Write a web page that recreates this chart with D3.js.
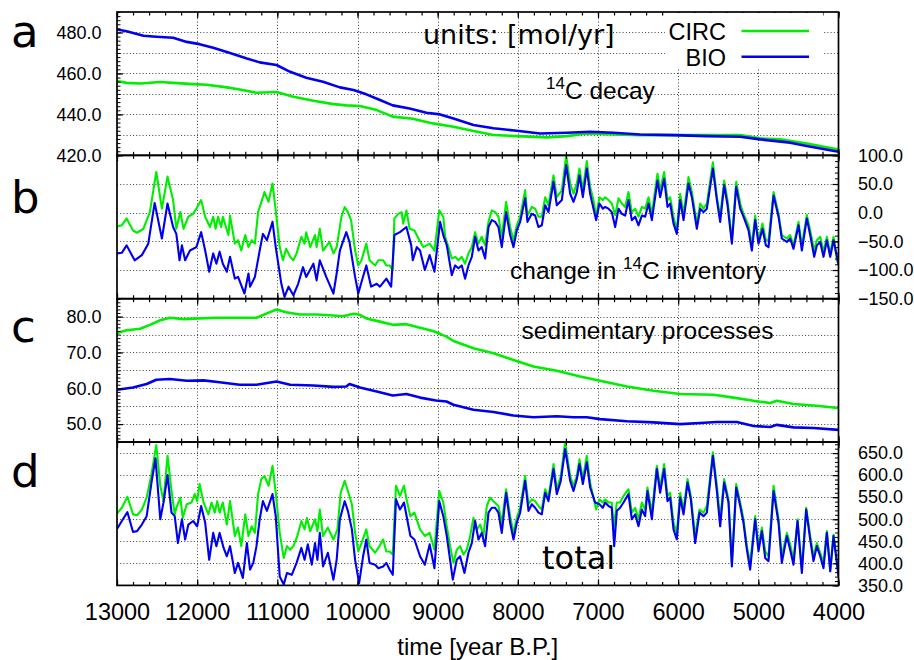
<!DOCTYPE html>
<html>
<head>
<meta charset="utf-8">
<script src="https://cdn.jsdelivr.net/npm/d3@7"></script>
<style>
  body { margin: 0; background: #fff; }
  svg { display: block; }
</style>
</head>
<body>
<svg id="chart" width="914" height="660"></svg>
<script>
// ---- data: [year B.P., mol/yr] ----
const decayCirc = [[13000,456.3],[12880,455.4],[12710,455.1],[12460,455.8],[12300,455.4],[12050,454.8],[11880,454.5],[11630,453.2],[11470,452.2],[11260,450.6],[11010,450.9],[10800,448.6],[10550,446.7],[10300,445.0],[10140,444.4],[9970,444.1],[9760,442.1],[9560,438.9],[9310,437.9],[9060,435.6],[8803,434.0],[8554,431.9],[8304,429.9],[8013,429.4],[7638,428.8],[7389,429.4],[7140,430.7],[6807,430.2],[6474,429.9],[6058,429.9],[5642,429.9],[5226,429.9],[4977,428.3],[4727,427.8],[4395,425.8],[4000,422.9]];
const decayBio = [[13000,481.5],[12880,480.6],[12670,478.4],[12510,477.9],[12300,477.4],[12130,475.4],[11970,474.3],[11800,472.5],[11590,470.0],[11380,467.3],[11220,465.4],[11010,464.1],[10840,460.8],[10640,457.9],[10430,455.9],[10220,453.2],[10050,451.9],[9890,449.8],[9720,447.0],[9560,444.4],[9350,442.9],[9140,440.8],[8970,440.0],[8803,438.0],[8554,434.8],[8304,433.2],[8013,432.0],[7722,430.7],[7389,431.0],[7098,431.5],[6807,431.0],[6474,430.2],[6058,429.9],[5642,429.4],[5226,429.1],[4977,427.8],[4602,426.2],[4395,424.6],[4000,421.8]];

const inventoryCirc = [[13000,-24],[12940,-22],[12880,-10],[12800,-31],[12750,-35],[12670,-28],[12590,1],[12510,71],[12440,7],[12370,63],[12300,22],[12260,-28],[12210,1],[12170,-28],[12110,-7],[12050,-2],[12010,7],[11950,22],[11900,-7],[11840,-25],[11800,-7],[11770,-28],[11740,-7],[11700,-25],[11680,-7],[11610,-39],[11590,-5],[11530,-54],[11490,-48],[11450,-66],[11400,-39],[11360,-60],[11320,-48],[11280,-54],[11240,1],[11180,27],[11160,36],[11110,19],[11060,51],[11020,4],[10970,-60],[10930,-83],[10890,-63],[10840,-77],[10800,-83],[10760,-71],[10700,-42],[10660,-54],[10640,-34],[10590,-60],[10530,-39],[10510,-60],[10470,-28],[10430,-66],[10350,-51],[10300,-71],[10260,-60],[10200,-7],[10160,10],[10120,1],[10080,-13],[10030,-66],[9990,-92],[9950,-83],[9890,-54],[9850,-83],[9780,-92],[9740,-83],[9680,-83],[9640,-92],[9600,-92],[9560,-100],[9540,-10],[9490,-2],[9450,1],[9430,-19],[9390,4],[9350,-28],[9290,-31],[9240,-45],[9180,-60],[9100,-54],[9040,-66],[8980,4],[8930,-7],[8907,-42],[8866,-60],[8824,-80],[8782,-77],[8741,-83],[8699,-77],[8658,-89],[8616,-71],[8574,-60],[8533,-34],[8491,-54],[8450,-42],[8408,-57],[8366,-16],[8325,4],[8283,1],[8242,-7],[8200,-42],[8146,19],[8096,-25],[8054,-48],[8013,-22],[7971,-7],[7909,39],[7880,-5],[7826,10],[7784,7],[7743,-7],[7701,-7],[7659,27],[7618,13],[7555,65],[7514,27],[7451,39],[7397,100],[7347,51],[7306,33],[7264,51],[7231,77],[7189,39],[7140,90],[7098,45],[7056,22],[7023,-7],[6982,27],[6940,22],[6911,27],[6869,22],[6828,16],[6786,-4],[6744,25],[6703,16],[6661,10],[6620,36],[6578,1],[6536,7],[6495,-7],[6453,10],[6412,7],[6370,27],[6328,-2],[6258,68],[6225,39],[6175,71],[6133,22],[6100,27],[6058,-7],[6017,-31],[5975,33],[5933,-2],[5871,62],[5829,36],[5767,-19],[5725,16],[5684,7],[5642,16],[5567,88],[5517,27],[5476,-7],[5426,56],[5384,22],[5330,-48],[5276,54],[5226,16],[5185,-2],[5122,-22],[5081,-57],[5039,-5],[4998,-48],[4948,-19],[4906,-48],[4873,-48],[4810,36],[4748,-2],[4707,-39],[4644,-45],[4603,-39],[4561,-57],[4499,-16],[4457,-57],[4395,-4],[4353,-31],[4303,-66],[4270,-48],[4228,-42],[4187,-68],[4145,-42],[4103,-71],[4062,-42],[4020,-83],[4000,-90]];
const inventoryBio = [[13000,-71],[12940,-70],[12880,-57],[12780,-83],[12690,-74],[12610,-54],[12530,17],[12440,-45],[12370,16],[12300,-25],[12260,-37],[12220,-83],[12190,-57],[12150,-83],[12090,-66],[12010,-60],[11950,-34],[11900,-66],[11850,-103],[11800,-71],[11760,-89],[11720,-68],[11680,-89],[11630,-103],[11590,-77],[11530,-115],[11490,-112],[11410,-141],[11360,-106],[11340,-129],[11280,-112],[11220,-66],[11180,-37],[11130,-48],[11060,-16],[11020,-60],[10950,-124],[10910,-147],[10860,-129],[10800,-144],[10740,-124],[10680,-95],[10640,-112],[10550,-89],[10510,-118],[10470,-83],[10390,-112],[10300,-141],[10260,-106],[10220,-66],[10140,-34],[10100,-51],[10030,-112],[9990,-141],[9950,-121],[9890,-92],[9830,-129],[9760,-124],[9720,-129],[9640,-115],[9580,-129],[9540,-39],[9470,-34],[9390,-25],[9330,-57],[9310,-83],[9260,-60],[9220,-66],[9160,-100],[9100,-74],[9040,-103],[8970,-16],[8930,-39],[8886,-57],[8824,-109],[8782,-92],[8741,-97],[8699,-92],[8658,-115],[8616,-92],[8574,-77],[8533,-42],[8491,-66],[8450,-60],[8408,-80],[8366,-25],[8325,-13],[8283,-16],[8242,-25],[8200,-60],[8146,1],[8096,-39],[8054,-60],[8013,-31],[7971,-16],[7909,25],[7880,-16],[7826,-2],[7784,-5],[7743,-25],[7701,-22],[7659,13],[7618,1],[7555,54],[7514,13],[7451,22],[7397,83],[7347,33],[7306,19],[7264,36],[7231,65],[7189,27],[7140,77],[7098,33],[7056,7],[7023,-13],[6982,16],[6940,7],[6911,10],[6869,7],[6828,1],[6786,-25],[6744,7],[6703,-2],[6661,-5],[6620,22],[6578,-13],[6536,-7],[6495,-22],[6453,-5],[6412,-7],[6370,16],[6328,-13],[6258,56],[6225,27],[6175,59],[6133,10],[6100,16],[6058,-19],[6017,-37],[5975,22],[5933,-13],[5871,51],[5829,27],[5767,-28],[5725,7],[5684,1],[5642,7],[5567,77],[5517,22],[5476,-16],[5426,48],[5384,13],[5330,-54],[5276,45],[5226,7],[5185,-7],[5122,-31],[5081,-66],[5039,-13],[4998,-54],[4948,-28],[4906,-57],[4873,-60],[4810,30],[4748,-7],[4707,-45],[4644,-51],[4603,-45],[4561,-63],[4499,-22],[4457,-66],[4395,-10],[4353,-39],[4303,-77],[4270,-57],[4228,-51],[4187,-77],[4145,-48],[4103,-77],[4062,-48],[4000,-89]];

const sedimentCirc = [[13000,75.4],[12880,76.2],[12710,76.6],[12590,77.7],[12460,79.0],[12340,79.7],[12170,79.3],[11970,79.5],[11760,79.7],[11550,79.7],[11260,79.7],[11130,80.9],[11010,82.0],[10890,81.2],[10720,80.6],[10510,80.6],[10300,80.3],[10180,80.1],[10050,80.8],[9970,80.5],[9890,79.5],[9720,78.6],[9560,77.7],[9390,77.9],[9220,76.9],[9060,76.0],[8970,75.2],[8890,74.4],[8803,73.2],[8554,71.2],[8304,69.8],[8055,67.9],[7805,66.1],[7514,64.9],[7223,63.3],[6973,62.1],[6640,60.5],[6308,59.3],[5975,58.4],[5559,58.2],[5310,57.4],[5060,56.5],[4852,55.9],[4769,56.5],[4561,55.6],[4312,55.2],[4000,54.5]];
const sedimentBio = [[13000,59.6],[12800,60.2],[12630,61.2],[12510,62.4],[12340,62.6],[12130,62.1],[11920,62.2],[11720,61.7],[11470,61.0],[11260,61.0],[11010,61.9],[10840,61.0],[10550,60.8],[10300,60.4],[10140,60.5],[10100,61.2],[9970,60.2],[9760,59.1],[9560,58.0],[9390,58.4],[9220,57.4],[9020,56.6],[8890,56.3],[8803,55.4],[8554,54.0],[8304,53.4],[8055,52.4],[7805,51.9],[7514,52.2],[7306,51.9],[7140,51.9],[6973,51.4],[6640,50.8],[6308,50.5],[5975,50.0],[5725,50.3],[5517,50.6],[5268,50.6],[5060,49.5],[4852,49.2],[4769,49.8],[4561,49.1],[4312,48.9],[4000,48.4]];

const totalCirc = [[13000,513],[12940,526],[12870,551],[12800,511],[12750,509],[12690,522],[12630,549],[12570,602],[12510,668],[12460,576],[12420,541],[12370,644],[12320,564],[12280,511],[12260,526],[12210,549],[12180,503],[12130,534],[12070,538],[12030,557],[12000,541],[11970,580],[11920,538],[11860,511],[11820,538],[11780,515],[11750,541],[11720,515],[11680,538],[11630,488],[11590,541],[11530,462],[11490,481],[11450,439],[11400,511],[11360,462],[11320,484],[11280,469],[11240,557],[11200,591],[11160,598],[11110,576],[11060,621],[11020,560],[10970,469],[10920,412],[10880,439],[10840,431],[10800,439],[10750,462],[10700,496],[10660,477],[10630,503],[10590,473],[10530,500],[10500,473],[10470,522],[10430,462],[10370,481],[10300,454],[10250,477],[10210,560],[10160,587],[10120,564],[10070,534],[10030,469],[9990,427],[9950,446],[9890,477],[9850,439],[9780,424],[9740,435],[9680,454],[9640,427],[9600,427],[9560,420],[9520,576],[9470,553],[9420,576],[9380,538],[9340,507],[9290,515],[9220,477],[9160,462],[9100,469],[9040,431],[8980,564],[8930,538],[8886,484],[8845,439],[8803,401],[8762,431],[8720,439],[8678,420],[8637,431],[8595,462],[8554,503],[8512,477],[8470,488],[8429,462],[8387,530],[8346,549],[8304,541],[8242,530],[8200,492],[8146,568],[8096,507],[8054,469],[8013,503],[7971,526],[7909,598],[7867,534],[7826,545],[7784,541],[7743,530],[7701,522],[7659,568],[7618,549],[7555,625],[7514,568],[7464,598],[7410,674],[7347,598],[7306,576],[7264,598],[7231,636],[7189,591],[7140,644],[7098,583],[7056,549],[7023,522],[6982,545],[6940,538],[6911,545],[6869,538],[6828,538],[6807,477],[6765,538],[6724,538],[6682,553],[6620,568],[6578,515],[6536,526],[6495,500],[6453,538],[6412,522],[6383,572],[6328,515],[6266,621],[6225,572],[6175,625],[6133,553],[6100,560],[6058,492],[6017,469],[5975,560],[5933,522],[5883,591],[5842,553],[5788,462],[5734,522],[5684,515],[5642,530],[5567,652],[5517,576],[5476,500],[5426,591],[5372,545],[5330,401],[5276,580],[5226,538],[5185,500],[5143,439],[5102,401],[5039,507],[4998,439],[4956,481],[4914,427],[4873,416],[4810,576],[4748,500],[4707,416],[4644,469],[4603,443],[4561,408],[4511,500],[4457,386],[4403,526],[4353,462],[4312,416],[4270,446],[4228,424],[4187,401],[4145,473],[4103,386],[4062,465],[4000,378]];
const totalBio = [[13000,478],[12940,496],[12870,516],[12800,471],[12750,473],[12690,488],[12630,507],[12570,583],[12520,638],[12460,500],[12420,538],[12370,600],[12320,515],[12280,507],[12240,446],[12190,500],[12150,454],[12110,488],[12050,496],[12000,484],[11950,530],[11900,492],[11850,408],[11800,469],[11760,439],[11720,469],[11670,435],[11630,416],[11590,439],[11530,378],[11490,401],[11430,367],[11380,446],[11340,386],[11300,401],[11260,439],[11220,500],[11180,541],[11130,519],[11060,557],[11020,507],[10970,370],[10920,352],[10880,378],[10820,374],[10760,401],[10700,435],[10660,408],[10620,443],[10570,397],[10530,446],[10500,408],[10470,469],[10430,393],[10370,424],[10300,363],[10260,408],[10220,500],[10160,541],[10120,519],[10070,477],[10030,408],[9980,355],[9930,416],[9890,454],[9850,401],[9780,397],[9740,389],[9680,393],[9640,401],[9600,386],[9560,374],[9520,545],[9470,522],[9420,538],[9380,500],[9340,462],[9290,454],[9220,416],[9160,397],[9100,443],[9040,389],[8980,541],[8930,507],[8886,462],[8811,363],[8762,408],[8720,416],[8666,378],[8616,424],[8574,446],[8533,496],[8491,454],[8450,469],[8408,439],[8366,515],[8325,526],[8283,526],[8242,515],[8200,469],[8146,560],[8096,492],[8054,454],[8013,492],[7971,515],[7909,587],[7867,519],[7826,534],[7784,526],[7743,515],[7701,511],[7659,560],[7618,541],[7555,614],[7514,557],[7464,587],[7410,659],[7347,587],[7306,564],[7264,591],[7231,625],[7189,580],[7140,629],[7098,572],[7036,538],[6982,534],[6940,526],[6911,538],[6869,530],[6828,526],[6798,439],[6765,519],[6724,526],[6682,538],[6620,557],[6578,500],[6536,511],[6495,484],[6453,522],[6412,507],[6383,564],[6328,500],[6266,614],[6225,560],[6175,614],[6133,541],[6100,549],[6058,477],[6017,454],[5975,549],[5933,511],[5883,583],[5842,545],[5788,446],[5734,515],[5684,507],[5642,515],[5567,644],[5517,564],[5476,484],[5426,583],[5372,538],[5330,393],[5276,572],[5226,530],[5185,492],[5143,431],[5102,386],[5039,500],[4998,427],[4956,473],[4914,412],[4873,405],[4810,564],[4748,492],[4707,401],[4644,462],[4603,431],[4561,397],[4511,496],[4457,378],[4403,522],[4353,454],[4312,405],[4270,439],[4228,416],[4187,389],[4145,469],[4103,382],[4062,462],[4000,370]];

const yearTicks = [13000, 12000, 11000, 10000, 9000, 8000, 7000, 6000, 5000, 4000];
const seriesNames = ["CIRC", "BIO"];

// ---- layout ----
const X0 = 117, X1 = 838.5, TOP = 12, PH = 143.35;
const GREEN = "#00ee00", BLUE = "#0000ee";
const SANS = "'Liberation Sans', Arial, Helvetica, sans-serif";
const DEJAVU = "'DejaVu Sans', Verdana, sans-serif";

const svg = d3.select("#chart");
const x = d3.scaleLinear().domain([13000, 4000]).range([X0, X1]);

const panels = [
  { id: "a", domain: [420, 490], labels: [420, 440, 460, 480], grid: d3.range(430, 490, 10), minor: d3.range(420, 491, 2), side: "left",  circ: decayCirc,     bio: decayBio,     lw: 2.6 },
  { id: "b", domain: [-150, 100], labels: [-150, -100, -50, 0, 50, 100], grid: [-100, -50, 0, 50], minor: d3.range(-150, 101, 10), side: "right", circ: inventoryCirc, bio: inventoryBio, lw: 2.1 },
  { id: "c", domain: [45, 85], labels: [50, 60, 70, 80], grid: d3.range(50, 85, 5), minor: d3.range(45, 86, 1), side: "left",  circ: sedimentCirc,  bio: sedimentBio,  lw: 2.6 },
  { id: "d", domain: [350, 675], labels: [350, 400, 450, 500, 550, 600, 650], grid: [400, 450, 500, 550, 600, 650], minor: d3.range(350, 676, 10), side: "right", circ: totalCirc, bio: totalBio, lw: 2.1 }
];

const minorYears = d3.range(13000, 3999, -200);

panels.forEach((p, i) => {
  const top = TOP + i * PH, bottom = top + PH;
  const y = d3.scaleLinear().domain(p.domain).range([bottom, top]);
  const g = svg.append("g").attr("class", "panel-" + p.id);

  g.append("clipPath").attr("id", "clip-" + p.id)
    .append("rect").attr("x", X0).attr("y", top).attr("width", X1 - X0).attr("height", PH);

  // dotted grid
  const grid = g.append("g").attr("stroke", "#444").attr("stroke-width", 1).attr("stroke-dasharray", "1,2.2");
  grid.selectAll("line.h").data(p.grid).join("line").attr("class", "h")
    .attr("x1", X0).attr("x2", X1).attr("y1", d => Math.round(y(d)) + 0.5).attr("y2", d => Math.round(y(d)) + 0.5);
  grid.selectAll("line.v").data(yearTicks.slice(1, -1)).join("line").attr("class", "v")
    .attr("x1", d => Math.round(x(d)) + 0.5).attr("x2", d => Math.round(x(d)) + 0.5).attr("y1", top).attr("y2", bottom);

  // series
  const line = d3.line().x(d => x(d[0])).y(d => y(d[1]));
  const plot = g.append("g").attr("clip-path", "url(#clip-" + p.id + ")").attr("fill", "none")
    .attr("stroke-linejoin", "round").attr("stroke-width", p.lw);
  plot.append("path").datum(p.circ).attr("d", line).attr("stroke", GREEN);
  plot.append("path").datum(p.bio).attr("d", line).attr("stroke", BLUE);

  // x ticks on top and bottom edges, inward
  const xAxes = [
    { ax: d3.axisBottom(x).tickValues(yearTicks), pos: bottom, size: -6 },
    { ax: d3.axisBottom(x).tickValues(minorYears), pos: bottom, size: -3.5 },
    { ax: d3.axisTop(x).tickValues(yearTicks), pos: top, size: -6 },
    { ax: d3.axisTop(x).tickValues(minorYears), pos: top, size: -3.5 }
  ];
  xAxes.forEach(a => {
    const ag = g.append("g").attr("transform", `translate(0,${a.pos})`)
      .call(a.ax.tickSize(a.size).tickFormat(""));
    ag.select(".domain").remove();
    ag.selectAll("line").attr("stroke", "#000").attr("stroke-width", 1.2);
  });

  // y axis on the labelled side
  const isLeft = p.side === "left";
  const yx = isLeft ? X0 : X1;
  const mk = isLeft ? d3.axisLeft : d3.axisRight;
  const yMinor = g.append("g").attr("transform", `translate(${yx},0)`)
    .call(mk(y).tickValues(p.minor).tickSize(-3.5).tickFormat(""));
  yMinor.select(".domain").remove();
  yMinor.selectAll("line").attr("stroke", "#000").attr("stroke-width", 1);

  const yMajor = g.append("g").attr("transform", `translate(${yx},0)`)
    .call(mk(y).tickValues(p.labels).tickSize(-6).tickPadding(isLeft ? 15.5 : 19.5).tickFormat(d3.format(".1f")));
  yMajor.select(".domain").remove();
  yMajor.selectAll("line").attr("stroke", "#000").attr("stroke-width", 1.2);
  yMajor.selectAll("text").attr("font-family", SANS).attr("font-size", 18).attr("fill", "#000");

  // frame
  g.append("rect").attr("x", X0).attr("y", top).attr("width", X1 - X0).attr("height", PH)
    .attr("fill", "none").attr("stroke", "#000").attr("stroke-width", 1.7);

  // panel letter
  svg.append("text").attr("x", 11).attr("y", [46.5, 212.5, 341.5, 486.5][i])
    .attr("font-family", DEJAVU).attr("font-size", 45).attr("fill", "#000").text(p.id);
});

// year labels along the bottom
const bottomY = TOP + 4 * PH;
const xLab = svg.append("g").attr("transform", `translate(0,${bottomY})`)
  .call(d3.axisBottom(x).tickValues(yearTicks).tickSize(0).tickPadding(18).tickFormat(d3.format("d")));
xLab.select(".domain").remove();
xLab.selectAll("text").attr("font-family", SANS).attr("font-size", 23.5).attr("fill", "#000");

svg.append("text").attr("x", (X0 + X1) / 2).attr("y", 655).attr("text-anchor", "middle")
  .attr("font-family", SANS).attr("font-size", 24).text("time [year B.P.]");

// annotations
svg.append("text").attr("x", 423).attr("y", 44).attr("font-family", DEJAVU).attr("font-size", 27).text("units: [mol/yr]");

function superLabel(xPos, yPos, before, after) {
  const t = svg.append("text").attr("x", xPos).attr("y", yPos).attr("font-family", SANS).attr("font-size", 24.5);
  if (before) t.append("tspan").text(before);
  t.append("tspan").attr("font-size", 17).attr("dy", -10).text("14");
  t.append("tspan").attr("dy", 10).text(after);
}
superLabel(546, 98.5, "", "C decay");
superLabel(510, 278.5, "change in ", "C inventory");

svg.append("text").attr("x", 521.5).attr("y", 338.5).attr("font-family", SANS).attr("font-size", 24.5).text("sedimentary processes");
svg.append("text").attr("x", 542).attr("y", 569).attr("font-family", DEJAVU).attr("font-size", 32).text("total");

// legend (opaque key box)
svg.append("rect").attr("x", 665).attr("y", 13).attr("width", 158).attr("height", 55).attr("fill", "#fff");
const key = svg.append("g");
[GREEN, BLUE].forEach((c, k) => {
  const ly = 31 + k * 25.7;
  key.append("text").attr("x", 726).attr("y", ly + 8.8).attr("text-anchor", "end")
    .attr("font-family", SANS).attr("font-size", 23.5).text(seriesNames[k]);
  key.append("line").attr("x1", 741.5).attr("x2", 809).attr("y1", ly).attr("y2", ly)
    .attr("stroke", c).attr("stroke-width", 2.6);
});
</script>
</body>
</html>
